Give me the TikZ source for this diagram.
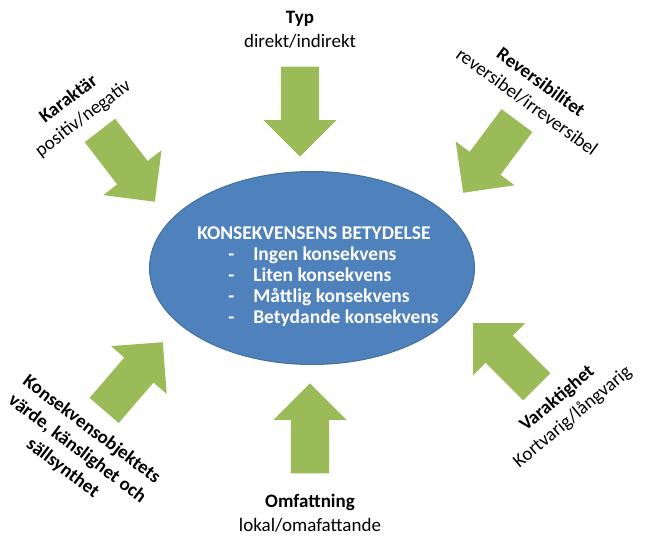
\documentclass[tikz,border=0pt]{standalone}
\usepackage{fontspec}
\setmainfont{Carlito}
\usetikzlibrary{shapes.geometric,shapes.arrows}
\definecolor{arrowgreen}{HTML}{9BBB59}
\definecolor{coreblue}{HTML}{4F81BD}
\definecolor{coreedge}{HTML}{41719C}
\tikzset{x=1pt, y=-1pt,
  bigarrow/.style={single arrow, fill=arrowgreen, draw=none, inner xsep=0pt, inner ysep=19pt,
    minimum height=90pt, single arrow head extend=17.5pt, anchor=tip},
  factortext/.style={font=\fontsize{19}{24}\selectfont, align=center, text=black},
  coretext/.style={font=\bfseries\fontsize{19.5}{21}\selectfont, align=left, text=white}}

\begin{document}
\begin{tikzpicture}
        \useasboundingbox (0,0) rectangle (656,545);

        \node (core) [ellipse, fill=coreblue, draw=coreedge, line width=1pt,
                      minimum width=325pt, minimum height=193pt] at (312,268) {};
        \node (coreinfo) [coretext] at (318,277)
              {KONSEKVENSENS BETYDELSE\\
               \makebox[56pt][l]{\hspace{31pt}-}Ingen konsekvens\\
               \makebox[56pt][l]{\hspace{31pt}-}Liten konsekvens\\
               \makebox[56pt][l]{\hspace{31pt}-}Måttlig konsekvens\\
               \makebox[56pt][l]{\hspace{31pt}-}Betydande konsekvens};

        % arrows towards the core
        \node (typ) [bigarrow, rotate=-90]   at (300,157) {};
        \node (kar) [bigarrow, rotate=-52.4] at (155,202) {};
        \node (rev) [bigarrow, rotate=-126.7] at (463,193) {};
        \node (var) [bigarrow, rotate=135]   at (473,323) {};
        \node (omf) [bigarrow, rotate=90]    at (310,383) {};
        \node (obj) [bigarrow, rotate=49.3]  at (163,342) {};

        % labels
        \node (typlabel) [factortext]            at (300,30)  {\textbf{Typ}\\direkt/indirekt};
        \node (karlabel) [factortext, rotate=37]  at (76,109)  {\textbf{Karaktär}\\positiv/negativ};
        \node (revlabel) [factortext, rotate=-36] at (534,92)  {\textbf{Reversibilitet}\\reversibel/irreversibel};
        \node (varlabel) [factortext, rotate=40]  at (565,408) {\textbf{Varaktighet}\\Kortvarig/långvarig};
        \node (omflabel) [factortext]            at (310,513) {\textbf{Omfattning}\\lokal/omafattande};
        \node (objlabel) [factortext, rotate=-37] at (77,449)
              {\textbf{Konsekvensobjektets}\\\textbf{värde, känslighet och}\\\textbf{sällsynthet}};
      \end{tikzpicture}
\end{document}
